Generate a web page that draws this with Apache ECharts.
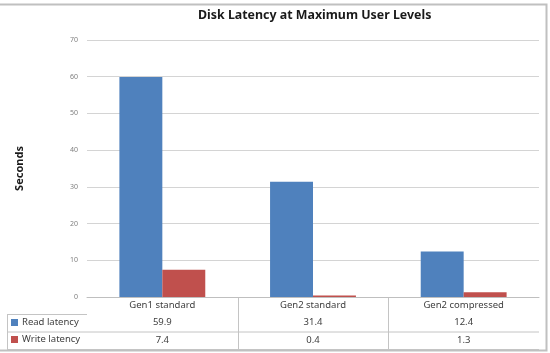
<!DOCTYPE html>
<html>
<head>
<meta charset="utf-8">
<script src="https://cdn.jsdelivr.net/npm/echarts@6/dist/echarts.min.js"></script>
<style>
  html, body { margin: 0; padding: 0; background: #fff; }
  #chart { width: 550px; height: 353px; }
</style>
</head>
<body>
<div id="chart"></div>
<script>
const categories   = ['Gen1 standard', 'Gen2 standard', 'Gen2 compressed']
const seriesNames  = ['Read latency', 'Write latency']
const readLatency  = [59.9, 31.4, 12.4]
const writeLatency = [7.4, 0.4, 1.3]

const colors = ['#4F81BD', '#C0504D']
const font   = "'Noto Sans', sans-serif"
const txt    = '#404040'
const rule   = '#c4c4c4'

//** plot box + data table geometry */
const plot = { left: 87, right: 539, top: 40, bottom: 297 }
const rowH = 17.5
const colW = (plot.right - plot.left) / categories.length
const tableTop    = plot.bottom + rowH
const tableBottom = plot.bottom + 3 * rowH

const line = (x1, y1, x2, y2) => ({
  type: 'line',
  silent: true,
  shape: { x1, y1, x2, y2 },
  style: { stroke: rule, lineWidth: 1 }
})

// one x axis per data-table row, label text comes from the series values
const tableRow = (vals, row) => ({
  type: 'category',
  data: categories,
  position: 'bottom',
  offset: row * rowH,
  axisLine: { show: false },
  axisTick: { show: false },
  axisLabel: {
    margin: 3,
    fontSize: 9.5,
    color: txt,
    fontFamily: font,
    formatter: (v, i) => vals[i].toFixed(1)
  }
})

const chart = echarts.init(document.getElementById('chart'))

chart.setOption({
  animation: false,
  backgroundColor: '#fff',
  textStyle: { fontFamily: font },
  title: {
    text: 'Disk Latency at Maximum User Levels',
    left: 198,
    top: 9,
    padding: 0,
    textStyle: { fontSize: 12.4, fontWeight: 'bold', color: '#1a1a1a', fontFamily: font }
  },
  legend: {
    data: seriesNames,
    orient: 'vertical',
    left: 11,
    top: tableTop + 2,
    padding: 0,
    itemWidth: 7,
    itemHeight: 7,
    itemGap: 5,
    icon: 'rect',
    selectedMode: false,
    textStyle: { fontSize: 9.5, lineHeight: 12, color: txt, fontFamily: font, padding: [0, 0, 0, -1] }
  },
  grid: {
    left: plot.left,
    right: 550 - plot.right,
    top: plot.top,
    bottom: 353 - plot.bottom,
    containLabel: false
  },
  xAxis: [
    {
      type: 'category',
      data: categories,
      axisLine: { lineStyle: { color: '#bfbfbf' } },
      axisTick: { show: false },
      axisLabel: { margin: 3, fontSize: 9.5, color: txt, fontFamily: font }
    },
    tableRow(readLatency, 1),
    tableRow(writeLatency, 2)
  ],
  yAxis: {
    type: 'value',
    min: 0,
    max: 70,
    interval: 10,
    name: 'Seconds',
    nameLocation: 'middle',
    nameRotate: 90,
    nameGap: 62,
    nameTextStyle: { fontSize: 11, fontWeight: 'bold', color: '#1a1a1a', fontFamily: font },
    axisLine: { show: false },
    axisTick: { show: false },
    axisLabel: { fontSize: 7, color: '#7f7f7f', margin: 9, fontFamily: font },
    splitLine: { lineStyle: { color: '#d4d4d4' } }
  },
  series: [
    {
      name: seriesNames[0],
      type: 'bar',
      data: readLatency,
      barGap: '0%',
      barCategoryGap: '43%',
      itemStyle: { color: colors[0] }
    },
    {
      name: seriesNames[1],
      type: 'bar',
      data: writeLatency,
      barGap: '0%',
      barCategoryGap: '43%',
      itemStyle: { color: colors[1] }
    }
  ],
  graphic: [
    // outer chart frame (left edge falls outside the picture)
    {
      type: 'rect',
      silent: true,
      shape: { x: -5, y: 4.5, width: 551.5, height: 346 },
      style: { fill: 'none', stroke: '#c0c0c0', lineWidth: 2 }
    },
    // data table rules
    line(7, tableTop, plot.left, tableTop),
    line(7, plot.bottom + 2 * rowH, plot.right, plot.bottom + 2 * rowH),
    line(7, tableBottom, plot.right, tableBottom),
    line(7.5, tableTop, 7.5, tableBottom),
    ...categories.slice(1).map((c, i) => {
      const x = Math.round(plot.left + colW * (i + 1)) + 0.5
      return line(x, plot.bottom, x, tableBottom)
    })
  ]
})
</script>
</body>
</html>
